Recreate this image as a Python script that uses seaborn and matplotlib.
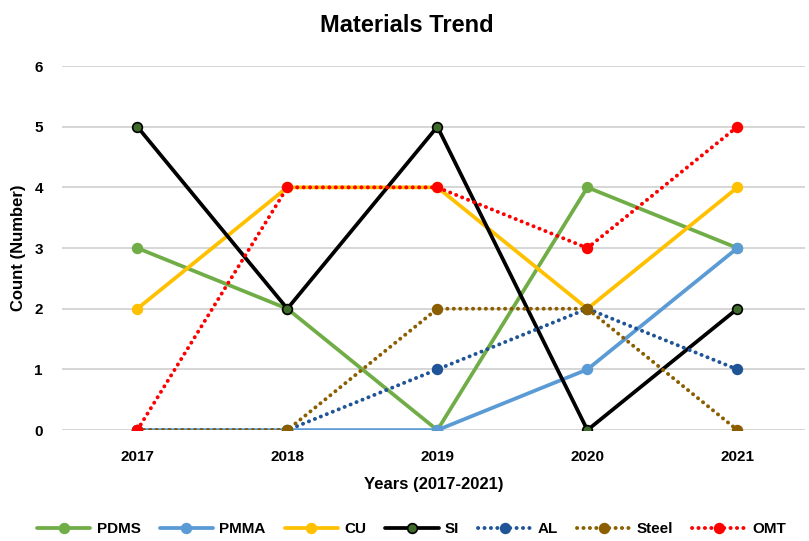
import pandas as pd
import seaborn as sns
import matplotlib.pyplot as plt

years = ['2017', '2018', '2019', '2020', '2021']
materials = ['PDMS', 'PMMA', 'CU', 'SI', 'AL', 'Steel', 'OMT']
pdms = [3, 2, 0, 4, 3]
pmma = [0, 0, 0, 1, 3]
cu = [2, 4, 4, 2, 4]
si = [5, 2, 5, 0, 2]
al = [0, 0, 1, 2, 1]
steel = [0, 0, 2, 2, 0]
omt = [0, 4, 4, 3, 5]

colors = {'PDMS': '#70AD47', 'PMMA': '#5B9BD5', 'CU': '#FFC000', 'SI': '#000000',
          'AL': '#1F5496', 'Steel': '#8B5E00', 'OMT': '#FF0000'}
face = {'SI': '#3E6B2A'}
dotted = ['AL', 'Steel', 'OMT']

# long-form table
rows = []
for name, vals in zip(materials, [pdms, pmma, cu, si, al, steel, omt]):
    for yr, v in zip(years, vals):
        rows.append({'Year': yr, 'Count': v, 'Material': name})
df = pd.DataFrame(rows)

sns.set_theme(style='white')
plt.rcParams['font.family'] = ['Liberation Sans', 'DejaVu Sans']
plt.rcParams['font.weight'] = 'bold'
plt.rcParams['text.color'] = 'black'
plt.rcParams['xtick.color'] = 'black'
plt.rcParams['ytick.color'] = 'black'
plt.rcParams['axes.labelcolor'] = 'black'

fig = plt.figure(figsize=(8.09, 5.41), dpi=100)
ax = fig.add_axes([0.077, 0.205, 0.918, 0.673])

for name in materials:
    sub = df[df['Material'] == name]
    c = colors[name]
    if name in dotted:
        ls = (0, (0.05, 1.6))
        lw = 2.8
    else:
        ls = '-'
        lw = 2.7
    sns.lineplot(data=sub, x='Year', y='Count', ax=ax, color=c, linewidth=lw,
                 linestyle=ls, marker='o', markersize=7,
                 markerfacecolor=face.get(name, c),
                 markeredgecolor=c, markeredgewidth=1.2,
                 dash_capstyle='round', label=name, sort=False)

ax.set_ylim(0, 6)
ax.set_xlim(-0.5, 4.45)
ax.set_yticks(range(0, 7))
ax.yaxis.grid(True, color='#D0D0D0', linewidth=1.2)
ax.set_axisbelow(True)
for s in ax.spines.values():
    s.set_visible(False)
ax.tick_params(axis='x', length=0, labelsize=11, pad=14)
ax.tick_params(axis='y', length=0, labelsize=11, pad=14)
for lab in ax.get_xticklabels() + ax.get_yticklabels():
    lab.set_fontweight('bold')

ax.set_xlabel('Years (2017-2021)', fontsize=12, fontweight='bold', labelpad=10)
ax.set_ylabel('Count (Number)', fontsize=12, fontweight='bold', labelpad=6)
fig.suptitle('Materials Trend', fontsize=17, fontweight='bold', x=0.503, y=0.975)

ax.legend(loc='center', bbox_to_anchor=(0.47, -0.272), ncol=7, frameon=False,
          prop={'size': 11, 'weight': 'bold'}, handlelength=3.5, columnspacing=1.25,
          handletextpad=0.4)

fig.savefig('out.png', dpi=100)
